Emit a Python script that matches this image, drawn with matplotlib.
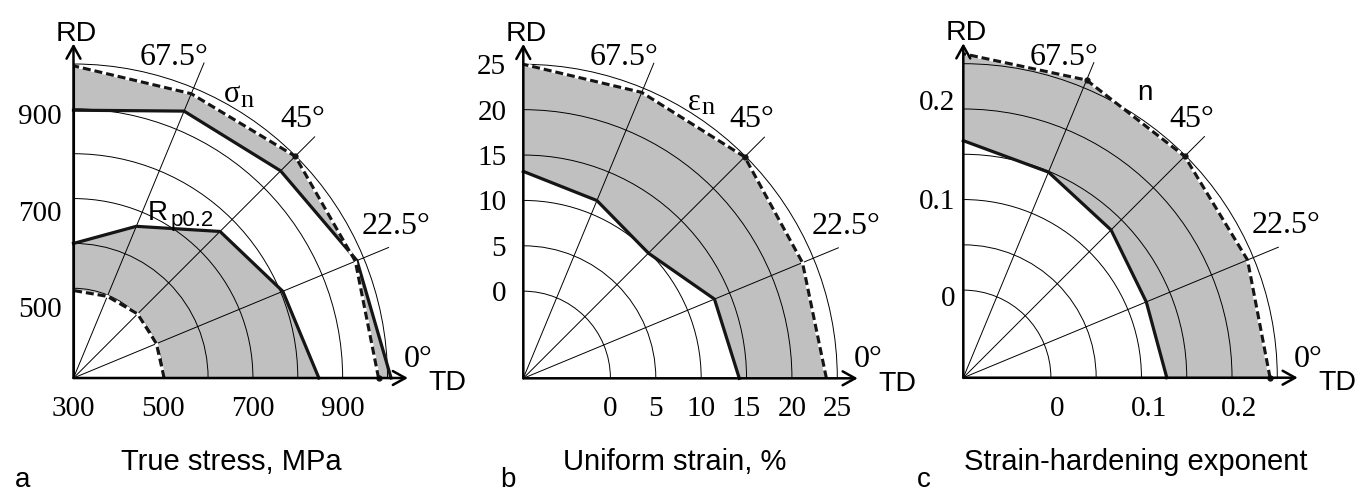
import numpy as np
import matplotlib
matplotlib.use("Agg")
import matplotlib.pyplot as plt

# angulos respecto a la direccion de laminacion (grados)
angulos = [0, 22.5, 45, 67.5, 90]

# panel a: tension verdadera, MPa
rp02_inf = [502, 500, 502, 497, 495]
rp02_sup = [847, 805, 762, 666, 600]
sigma_inf = [1008, 984, 953, 944, 897]
sigma_sup = [980, 980, 999, 986, 996]

# panel b: deformacion uniforme, %
eps_inf = [14.2, 13.2, 9.9, 11.6, 13.2]
eps_sup = [23.8, 23.7, 24.9, 24.5, 25.0]

# panel c: exponente de endurecimiento
n_inf = [0.128, 0.122, 0.134, 0.149, 0.165]
n_sup = [0.242, 0.243, 0.249, 0.259, 0.261]

# ticks y arcos de cada panel
arcos_a = [500, 600, 700, 800, 900]
xt_a = [300, 500, 700, 900]
yt_a = [500, 700, 900]
arcos_b = [0, 5, 10, 15, 20]
xt_b = [0, 5, 10, 15, 20, 25]
yt_b = [0, 5, 10, 15, 20, 25]
arcos_c = [0, 0.05, 0.1, 0.15, 0.2]
xt_c = [0, 0.1, 0.2]
yt_c = [0, 0.1, 0.2]
etiquetas_ang = ["67.5°", "45°", "22.5°", "0°"]

SERIF = "Liberation Serif"
SANS = "Liberation Sans"
GRIS = "#c0c0c0"
NEGRO = "#151515"
W, H = 1369, 493
R = 314  # radio exterior en pixeles

fig = plt.figure(figsize=(W / 100, H / 100), dpi=100)
th = np.deg2rad(angulos)


def panel(x0, y0, rmin, rmax, arcos):
    ax = fig.add_axes([x0 / W, y0 / H, R / W, R / H], projection="polar")
    ax.set_thetamin(0)
    ax.set_thetamax(90)
    ax.set_rlim(rmin, rmax)
    ax.set_xticks([])
    ax.set_yticks(arcos)
    ax.set_yticklabels([])
    ax.tick_params(length=0)
    ax.grid(True, color="black", lw=0.7)
    ax.set_axisbelow(False)
    ax.spines["polar"].set_linewidth(0.7)
    for s in ("start", "end", "inner"):
        ax.spines[s].set_visible(False)
    span = rmax - rmin
    # lineas radiales finas
    for t in (22.5, 45, 67.5):
        ax.plot([np.deg2rad(t)] * 2, [rmin, rmin + 1.086 * span],
                color="black", lw=0.7, clip_on=False, zorder=2.5)
    # ejes con flecha
    for t in (0, np.pi / 2):
        ax.annotate("", xy=(t, rmin + 1.065 * span), xytext=(t, rmin),
                    arrowprops=dict(arrowstyle="->,head_length=0.45,head_width=0.25",
                                    lw=1.8, color="black", shrinkA=0, shrinkB=0,
                                    mutation_scale=20),
                    annotation_clip=False, zorder=4)
    # etiquetas de angulo
    for txt, (a, f) in zip(etiquetas_ang, [(72.5, 1.07), (48.5, 1.10), (25.2, 1.135), (3.1, 1.10)]):
        ax.text(np.deg2rad(a), rmin + f * span, txt, fontsize=23, family=SERIF,
                ha="center", va="center")
    ax.text(np.deg2rad(89.5), rmin + 1.097 * span, "RD", fontsize=20.5, family=SANS,
            ha="center", va="center")
    ax.text(np.deg2rad(-0.8), rmin + 1.19 * span, "TD", fontsize=20.5, family=SANS,
            ha="center", va="center")
    return ax


def banda(ax, solida, discont, marcas):
    solida = np.asarray(solida)
    discont = np.asarray(discont)
    ax.fill(np.concatenate([th, th[::-1]]), np.concatenate([solida, discont[::-1]]),
            color=GRIS, lw=0, zorder=1, clip_on=False)
    ax.plot(th, solida, color=NEGRO, lw=2.3, zorder=3, clip_on=False)
    ax.plot(th, discont, color=NEGRO, lw=2.2, dashes=(2.6, 1.3), gapcolor="white",
            marker="o", ms=3.5, markevery=marcas, zorder=3, clip_on=False)


def ticks(ax, xv, yv, fmt, gap, yoff=None, xoff=None):
    yoff = yoff or [0] * len(yv)
    xoff = xoff or [0] * len(xv)
    for v, o in zip(xv, xoff):
        ax.annotate(fmt(v), xy=(0, v), xytext=(o, -18), textcoords="offset pixels",
                    ha="center", va="top", fontsize=21, family=SERIF,
                    annotation_clip=False)
    for v, o in zip(yv, yoff):
        ax.annotate(fmt(v), xy=(np.pi / 2, v), xytext=(-gap, -o - 3),
                    textcoords="offset pixels", ha="right", va="center",
                    fontsize=21, family=SERIF, annotation_clip=False)


def sub(ax, ang, frac, rmin, rmax, base, indice, fam, fs, fs2, off):
    r = rmin + frac * (rmax - rmin)
    ax.annotate(base, xy=(np.deg2rad(ang), r), xytext=(0, 0), textcoords="offset pixels",
                ha="left", va="baseline", fontsize=fs, family=fam, annotation_clip=False)
    if indice:
        ax.annotate(indice, xy=(np.deg2rad(ang), r), xytext=off, textcoords="offset pixels",
                    ha="left", va="baseline", fontsize=fs2, family=fam,
                    annotation_clip=False)


# panel a
ax_a = panel(73.5, 115, 300, 1000, arcos_a)
banda(ax_a, rp02_sup, rp02_inf, [])
banda(ax_a, sigma_inf, sigma_sup, [0, 2])
ticks(ax_a, xt_a, yt_a, lambda v: f"{v:g}", 12, yoff=[19, 12, 5])
sub(ax_a, 61.5, 1.001, 300, 1000, "σ", "n", SERIF, 22, 19, (17, -5))
sub(ax_a, 64.7, 0.557, 300, 1000, "R", "p0.2", SANS, 20, 16, (22, -6))

# panel b
rmin_b = -9.6
ax_b = panel(523.3, 114.7, rmin_b, 25, arcos_b)
banda(ax_b, eps_inf, eps_sup, [2])
ticks(ax_b, xt_b, yt_b, lambda v: f"{v:g}", 17)
sub(ax_b, 58.4, 1.003, rmin_b, 25, "ε", "n", SERIF, 22, 19, (13, -4))

# panel c
rmin_c = -0.0967
ax_c = panel(963.3, 115.3, rmin_c, 0.25, arcos_c)
banda(ax_c, n_inf, n_sup, [0, 2, 3])
ticks(ax_c, xt_c, yt_c, lambda v: f"{v:g}", 8, yoff=[6, -1, -9], xoff=[6, 8, 7])
sub(ax_c, 58.0, 1.043, rmin_c, 0.25, "n", "", SANS, 20, 20, (0, 0))

# titulos y letras
for x, t in [(231.7, "True stress, MPa"), (675, "Uniform strain, %"),
             (1136, "Strain-hardening exponent")]:
    fig.text(x / W, 23 / H, t, ha="center", va="baseline", fontsize=21, family=SANS)
for x, t in [(15, "a"), (500, "b"), (917, "c")]:
    fig.text(x / W, 6 / H, t, ha="left", va="baseline", fontsize=20, family=SANS)

fig.savefig("out.png", dpi=100)
